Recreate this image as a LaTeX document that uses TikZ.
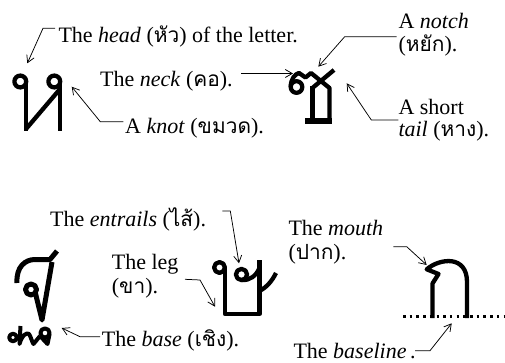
\documentclass[tikz,border=0pt]{standalone}
\usepackage{fontspec}
\setmainfont{Liberation Serif}
\newfontfamily\thai[Script=Thai,Scale=0.95]{Loma}
\usetikzlibrary{arrows.meta}
\begin{document}
\begin{tikzpicture}[x=1pt,y=-1pt,
  lbl/.style={font=\fontsize{22}{24}\selectfont, inner sep=0pt, anchor=base west},
  arr/.style={-{Straight Barb[length=7pt,width=8pt]}, line width=0.75pt},
  glyph/.style={line width=4.3pt, line join=round},
  glyphbold/.style={line width=5pt, line join=round},
  glyphthin/.style={line width=4pt, line join=round}]
\useasboundingbox[fill=white] (0,0) rectangle (505,363);

% ---------- labels ----------
\node[lbl] (head) at (58.3,42.7) {The \textit{head} ({\thai หัว}) of the letter.};
\node[lbl] (neck) at (100,86.7) {The \textit{neck} ({\thai คอ}).};
\node[lbl] (knot) at (125,133.3) {A \textit{knot} ({\thai ขมวด}).};
\node[lbl] (notcha) at (398.3,28.3) {A \textit{notch}};
\node[lbl] (notchb) at (398.3,52) {({\thai หยัก}).};
\node[lbl] (shorta) at (398.3,115) {A short};
\node[lbl] (shortb) at (398.3,137) {\textit{tail} ({\thai หาง}).};
\node[lbl] (entrails) at (50,226.7) {The \textit{entrails} ({\thai ไส้}).};
\node[lbl] (lega) at (111.7,269.3) {The leg};
\node[lbl] (legb) at (111.7,293.3) {({\thai ขา}).};
\node[lbl] (base) at (101.7,346) {The \textit{base} ({\thai เชิง}).};
\node[lbl] (moutha) at (288.3,235) {The \textit{mouth}};
\node[lbl] (mouthb) at (288.3,259) {({\thai ปาก}).};
\node[lbl] (bline) at (293.3,358.3) {The \textit{baseline}\,.};

% ---------- connector end points ----------
\coordinate (headS) at (55,28.3);   \coordinate (headT) at (27.3,63.3);
\coordinate (neckS) at (241,73.5);  \coordinate (neckT) at (293,73.5);
\coordinate (knotS) at (123.3,121.7); \coordinate (knotT) at (71.7,86.7);
\coordinate (notchS) at (396.7,36.7); \coordinate (notchT) at (318.3,66.7);
\coordinate (shortS) at (398.3,120); \coordinate (shortT) at (346.7,83.3);
\coordinate (entS) at (222.3,211);  \coordinate (entT) at (239,263.3);
\coordinate (legS) at (185,279.3);  \coordinate (legT) at (215,306.7);
\coordinate (baseS) at (100,336.7); \coordinate (baseT) at (61.7,328);
\coordinate (mouthS) at (393.3,246.7); \coordinate (mouthT) at (426.7,265);
\coordinate (blineS) at (415,350.7); \coordinate (blineT) at (451.7,323.3);

\draw[arr] (headS) -- ++(-12,0) -- (headT);
\draw[arr] (neckS) -- (neckT);
\draw[arr] (knotS) -- ++(-23,0) -- (knotT);
\draw[arr] (notchS) -- ++(-52,0) -- (notchT);
\draw[arr] (shortS) -- ++(-27,0) -- (shortT);
\draw[arr] (entS) -- ++(8,0) -- (entT);
\draw[arr] (legS) -- ++(15,0.7) -- (legT);
\draw[arr] (baseS) -- ++(-20,0) -- (baseT);
\draw[arr] (mouthS) -- ++(13.4,0) -- (mouthT);
\draw[arr] (blineS) -- ++(15,0) -- (blineT);

% ---------- glyph 1 : head / knot ----------
\draw[glyph] (20.3,81.5) circle (5.9);
\draw[glyph] (26,82) -- (26,131);
\draw[glyph] (26,129) -- (60,89);
\draw[glyph] (54.3,81.5) circle (5.9);
\draw[glyph] (60,82) -- (60,131);

% ---------- glyph 2 : neck / notch / tail ----------
\draw[glyph] (296.5,87) circle (5.8);
\draw[glyph] (290.7,87) .. controls (290.7,79) and (295,74) .. (299,73)
  -- (305.5,77.5) -- (311,73) -- (329.5,88) -- (329.5,121);
\draw[glyph] (334,70) -- (313,87.5);
\draw[glyph] (312.5,86) -- (312.5,121);
\draw[line width=6pt] (305,121.5) -- (332,121.5);

% ---------- glyph 3 : base ----------
\draw[glyphbold] (31,289.5) circle (5.5);
\draw[glyphbold] (35.5,293.5) -- (42,320) -- (52,262);
\draw[glyphbold] (17,283) .. controls (16,267) and (25,259.5) .. (35,259.5)
  -- (50,259.5) -- (57,251);
\draw[glyphthin] (13,337.5) circle (3.8);
\draw[glyphthin] (20.5,326) -- (19.5,344) .. controls (22,335) and (27,332) .. (29,334)
  .. controls (31,337) and (32,342) .. (33.5,344) -- (40,336);
\draw[glyphthin] (45,333) circle (4.6);
\draw[glyphthin] (49.6,334) -- (47.5,344) -- (41,337);

% ---------- glyph 4 : entrails / leg ----------
\draw[glyph] (219.5,267.5) circle (5.4);
\draw[glyph] (224.9,267.5) -- (224.9,314) -- (259.5,314) -- (259.5,260);
\draw[glyph] (241.5,274.5) circle (5.6);
\draw[glyph] (241.5,280.1) .. controls (250,280.5) and (256,276) .. (259.5,268);
\draw[glyph] (259.5,291) .. controls (267,287) and (272,281) .. (276,273);

% ---------- glyph 5 : mouth / baseline ----------
\draw[line width=2.5pt, dash pattern=on 2.5pt off 4.2pt] (403,316.5) -- (505,316.5);
\draw[glyph] (432.5,318) -- (432.5,283.5) -- (438.5,274) -- (426.7,269.3)
  .. controls (440,258) and (467,255) .. (467,282) -- (467,318);
\end{tikzpicture}
\end{document}
